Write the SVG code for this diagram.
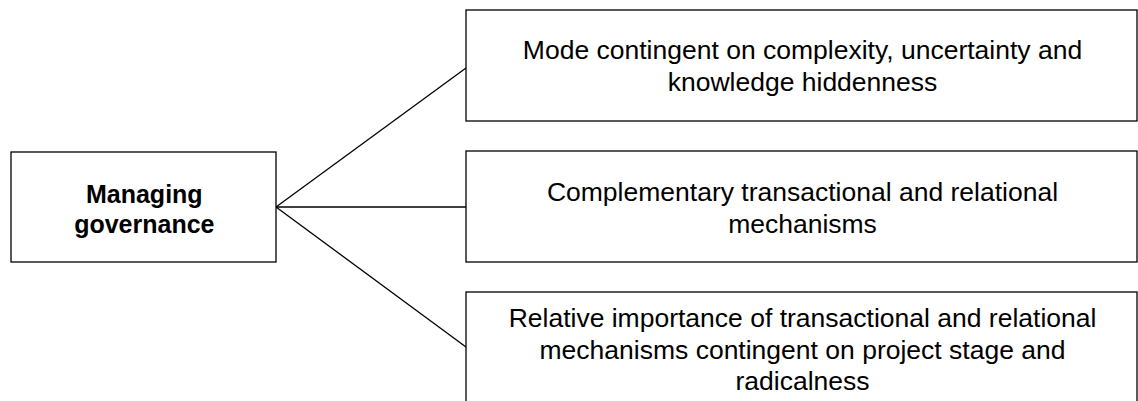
<svg xmlns="http://www.w3.org/2000/svg" width="1138" height="401" viewBox="0 0 1138 401">
  <style>
    .box { fill: #ffffff; stroke: #000000; stroke-width: 1.3; }
    .lbl { font-family: "Liberation Sans", Arial, sans-serif; font-size: 26.5px; fill: #000000; text-anchor: middle; }
    .bold { font-weight: bold; font-size: 25px; }
    .conn { stroke: #000000; stroke-width: 1.3; fill: none; }
  </style>
  <rect width="1138" height="401" fill="#ffffff"/>

  <g id="connectors">
    <line class="conn" x1="276" y1="207" x2="466" y2="68"/>
    <line class="conn" x1="276" y1="207" x2="466" y2="207"/>
    <line class="conn" x1="276" y1="207" x2="466" y2="347"/>
  </g>

  <g id="node-managing-governance">
    <rect class="box" x="11" y="152" width="265" height="110"/>
    <text class="lbl bold" x="144.3" y="203">Managing</text>
    <text class="lbl bold" x="144.3" y="233">governance</text>
  </g>

  <g id="node-mode-contingent">
    <rect class="box" x="466" y="10" width="671" height="111"/>
    <text class="lbl" x="802.5" y="59">Mode contingent on complexity, uncertainty and</text>
    <text class="lbl" x="802.5" y="90.5">knowledge hiddenness</text>
  </g>

  <g id="node-complementary">
    <rect class="box" x="466" y="151" width="671" height="111"/>
    <text class="lbl" x="802.5" y="201">Complementary transactional and relational</text>
    <text class="lbl" x="802.5" y="232.5">mechanisms</text>
  </g>

  <g id="node-relative-importance">
    <rect class="box" x="466" y="292" width="671" height="120"/>
    <text class="lbl" x="802.5" y="327">Relative importance of transactional and relational</text>
    <text class="lbl" x="802.5" y="358.5">mechanisms contingent on project stage and</text>
    <text class="lbl" x="802.5" y="390">radicalness</text>
  </g>
</svg>
